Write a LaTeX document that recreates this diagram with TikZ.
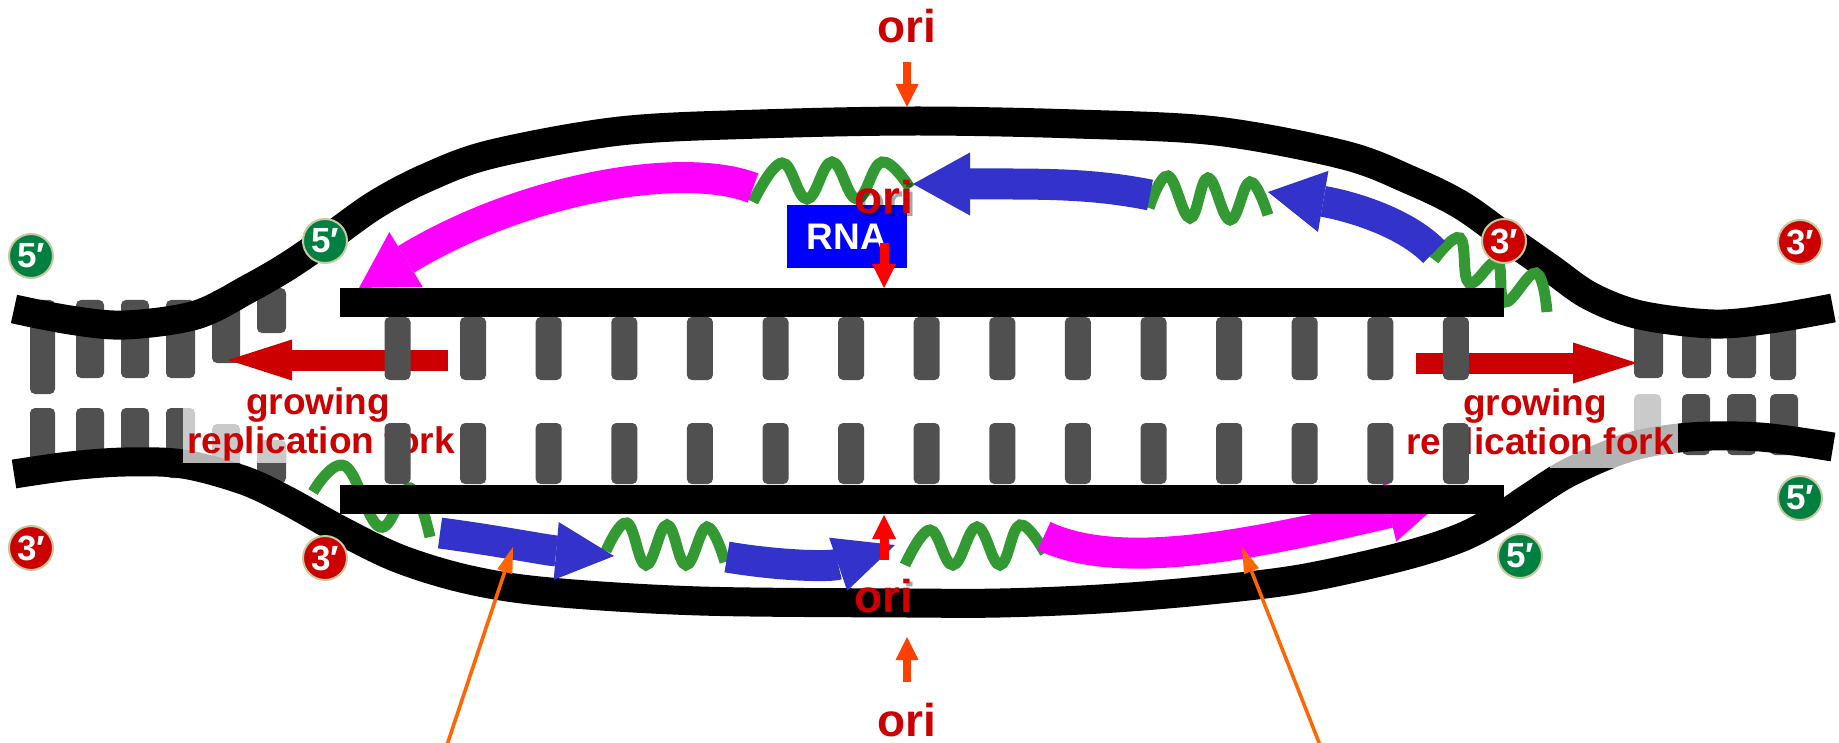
\documentclass[tikz,border=0pt]{standalone}
\usepackage{fontspec}
\setmainfont{Liberation Sans}
\usetikzlibrary{arrows.meta}
\definecolor{rungc}{HTML}{505050}
\definecolor{darkred}{HTML}{CC0000}
\definecolor{magc}{HTML}{FF00FF}
\definecolor{bluec}{HTML}{3333CC}
\definecolor{zigc}{HTML}{339933}
\definecolor{rnac}{HTML}{0000FF}
\definecolor{orc}{HTML}{FF6600}
\definecolor{oriarr}{HTML}{FF4000}
\definecolor{greenc}{HTML}{008040}
\definecolor{circb}{HTML}{C8C8A0}
\begin{document}
\begin{tikzpicture}[x=1pt,y=-1pt,
  strand/.style={line width=29pt,draw=black},
  rung/.style={fill=rungc,rounded corners=5pt},
  zig/.style={line width=11pt,draw=zigc},
  fat/.style={line width=31pt},
  lbl/.style={text=darkred,font=\fontsize{37}{39}\selectfont\bfseries,inner sep=0pt,anchor=base},
  oril/.style={text=darkred,font=\fontsize{46}{46}\selectfont\bfseries,inner sep=0pt,anchor=base},
  orisha/.style={text=black,opacity=0.35,font=\fontsize{46}{46}\selectfont\bfseries,inner sep=0pt,anchor=base},
  tag/.style={circle,minimum size=44pt,inner sep=0pt,draw=circb,line width=2pt,text=white,font=\fontsize{35}{35}\selectfont\bfseries},
  five/.style={tag,fill=greenc},
  three/.style={tag,fill=darkred},
  fork/.style={line width=21pt,draw=darkred,-{Triangle[length=64pt,width=41pt,line width=0pt]}},
  pointer/.style={line width=3.5pt,draw=orc,-{Triangle[length=26pt,width=16pt,line width=0pt]}}
]
\useasboundingbox (0,0) rectangle (1839,743);

% outer rungs, left
\fill[rung] (30,300) rectangle (55,394);
\fill[rung] (76,300) rectangle (104,378);
\fill[rung] (121,300) rectangle (149,378);
\fill[rung] (166,300) rectangle (195,378);
\fill[rung] (212,290) rectangle (240,363);
\fill[rung] (257,288) rectangle (286,333);
\fill[rung] (30,408) rectangle (55,480);
\fill[rung] (76,408) rectangle (104,475);
\fill[rung] (121,408) rectangle (149,475);
\fill[rung] (166,408) rectangle (195,478);
\fill[rung] (212,424) rectangle (240,485);
\fill[rung] (257,440) rectangle (286,483);
% outer rungs, right
\fill[rung] (1634,310) rectangle (1663,378);
\fill[rung] (1682,310) rectangle (1711,378);
\fill[rung] (1727,310) rectangle (1756,378);
\fill[rung] (1770,310) rectangle (1796,380);
\fill[rung] (1634,394) rectangle (1661,455);
\fill[rung] (1682,394) rectangle (1710,455);
\fill[rung] (1727,394) rectangle (1756,455);
\fill[rung] (1770,394) rectangle (1798,455);

% parental strands
\draw[strand] plot[smooth,tension=0.55] coordinates {(14,309) (70,320) (125,325) (196,315) (250,288) (288,266) (326,240) (375,205) (426,178) (492,154) (620,131) (760,124) (918,121) (1076,124) (1216,131) (1344,155) (1410,180) (1461,205) (1510,240) (1550,268) (1590,296) (1640,315) (1713,324) (1770,319) (1833,308)};
\draw[strand] plot[smooth,tension=0.55] coordinates {(14,474) (70,466) (125,462) (183,464) (243,480) (286,500) (340,530) (400,559) (470,580) (550,592) (700,601) (907,603) (1000,603) (1100,599) (1200,591) (1300,579) (1400,557) (1460,538) (1500,517) (1530,497) (1570,472) (1630,447) (1690,437) (1760,437) (1833,447)};

% faded areas behind the labels
\fill[white,opacity=0.7] (183,408) rectangle (286,463);
\fill[white,opacity=0.7] (1550,394) rectangle (1678,468);

% fork arrows and labels
\coordinate (fl0) at (448,360);
\coordinate (fl1) at (228,360);
\coordinate (fr0) at (1416,363);
\coordinate (fr1) at (1637,363);
\draw[fork] (fl0) -- (fl1);
\draw[fork] (fr0) -- (fr1);
\node[lbl] (gl1) at (318,414) {growing};
\node[lbl] (gl2) at (321,453) {replication fork};
\node[lbl] (gr1) at (1535,415) {growing};
\node[lbl] (gr2) at (1540,454) {replication fork};

% RNA primers (green waves)
\draw[zig] plot[smooth,tension=0.7] coordinates {(753,202) (782,163) (807,199) (832,162) (857,199) (882,162) (910,188)};
\draw[zig] plot[smooth,tension=0.7] coordinates {(1149,208) (1168,176) (1190,218) (1208,178) (1230,220) (1250,182) (1268,215)};
\draw[zig] plot[smooth,tension=0.7] coordinates {(1434,260) (1460,238) (1469,283) (1497,262) (1505,302) (1536,273) (1547,312)};
\draw[zig] plot[smooth,tension=0.7] coordinates {(313,492) (345,466) (380,527) (410,488) (430,537)};
\draw[zig] plot[smooth,tension=0.7] coordinates {(606,551) (627,523) (646,565) (667,525) (686,565) (707,527) (725,562)};
\draw[zig] plot[smooth,tension=0.7] coordinates {(905,565) (930,530) (953,565) (977,527) (1000,565) (1020,525) (1045,553)};

% new DNA: blue and magenta arrows
\draw[fat,draw=magc,-{Triangle[length=55pt,width=64pt,line width=0pt]}] (753,188) .. controls (680,160) and (520,190) .. (359,288);
\draw[fat,draw=magc,-{Triangle[length=55pt,width=60pt,line width=0pt]}] (1044,536) .. controls (1120,572) and (1250,545) .. (1443,500);
\draw[fat,draw=bluec,-{Triangle[length=57pt,width=63pt,line width=0pt]}] (1150,195) .. controls (1090,183) and (1040,184) .. (913,184);
\draw[fat,draw=bluec,-{Triangle[length=56pt,width=62pt,line width=0pt]}] (1434,252) .. controls (1405,222) and (1350,206) .. (1268,192);
\draw[fat,draw=bluec,-{Triangle[length=58pt,width=58pt,line width=0pt]}] (440,533) .. controls (500,541) and (545,550) .. (614,556);
\draw[fat,draw=bluec,-{Triangle[length=60pt,width=56pt,line width=0pt]}] (727,557) .. controls (780,566) and (830,567) .. (895,545);

% inner rungs
\foreach \i in {0,...,14}{
  \pgfmathsetmacro\cx{397.5+75.6*\i}
  \fill[rung] (\cx-13,317) rectangle (\cx+13,380);
  \fill[rung] (\cx-13,423) rectangle (\cx+13,484);
}
% template strands (straight bars)
\fill[black] (340,288) rectangle (1504,317);
\fill[black] (340,485) rectangle (1504,514);

% end labels
\node[five] (c5a) at (31,256) {5′};
\node[five] (c5b) at (325,241) {5′};
\node[three] (c3a) at (31,548) {3′};
\node[three] (c3b) at (325,558) {3′};
\node[three] (c3c) at (1504,241) {3′};
\node[three] (c3d) at (1800,242) {3′};
\node[five] (c5c) at (1800,498) {5′};
\node[five] (c5d) at (1520,556) {5′};

% RNA box
\node[fill=rnac,minimum width=120pt,minimum height=63pt,inner sep=0pt,text=white,font=\fontsize{37}{37}\selectfont\bfseries] (rna) at (847,236.5) {RNA};

% ori labels and arrows
\node[oril] (oriT) at (907,43) {ori};
\node[oril] (oriB) at (907,736) {ori};
\node[orisha] (oriIs) at (887,217) {ori};
\node[oril] (oriI) at (884,214) {ori};
\node[orisha] (oriJs) at (887,615) {ori};
\node[oril] (oriJ) at (884,612) {ori};
\coordinate (aT0) at (907,62);  \coordinate (aT1) at (907,107);
\coordinate (aB0) at (907,682); \coordinate (aB1) at (907,637);
\coordinate (aI0) at (884,243); \coordinate (aI1) at (884,288);
\coordinate (aJ0) at (884,560); \coordinate (aJ1) at (884,515);
\draw[line width=8pt,draw=oriarr,-{Triangle[length=23pt,width=23pt,line width=0pt]}] (aT0) -- (aT1);
\draw[line width=8pt,draw=oriarr,-{Triangle[length=23pt,width=23pt,line width=0pt]}] (aB0) -- (aB1);
\draw[line width=9pt,draw=red,-{Triangle[length=24pt,width=24pt,line width=0pt]}] (aI0) -- (aI1);
\draw[line width=9pt,draw=red,-{Triangle[length=24pt,width=24pt,line width=0pt]}] (aJ0) -- (aJ1);

% orange pointers
\coordinate (pl0) at (447,745); \coordinate (pl1) at (513,547);
\coordinate (pr0) at (1320,745); \coordinate (pr1) at (1242,547);
\draw[pointer] (pl0) -- (pl1);
\draw[pointer] (pr0) -- (pr1);
\end{tikzpicture}
\end{document}
